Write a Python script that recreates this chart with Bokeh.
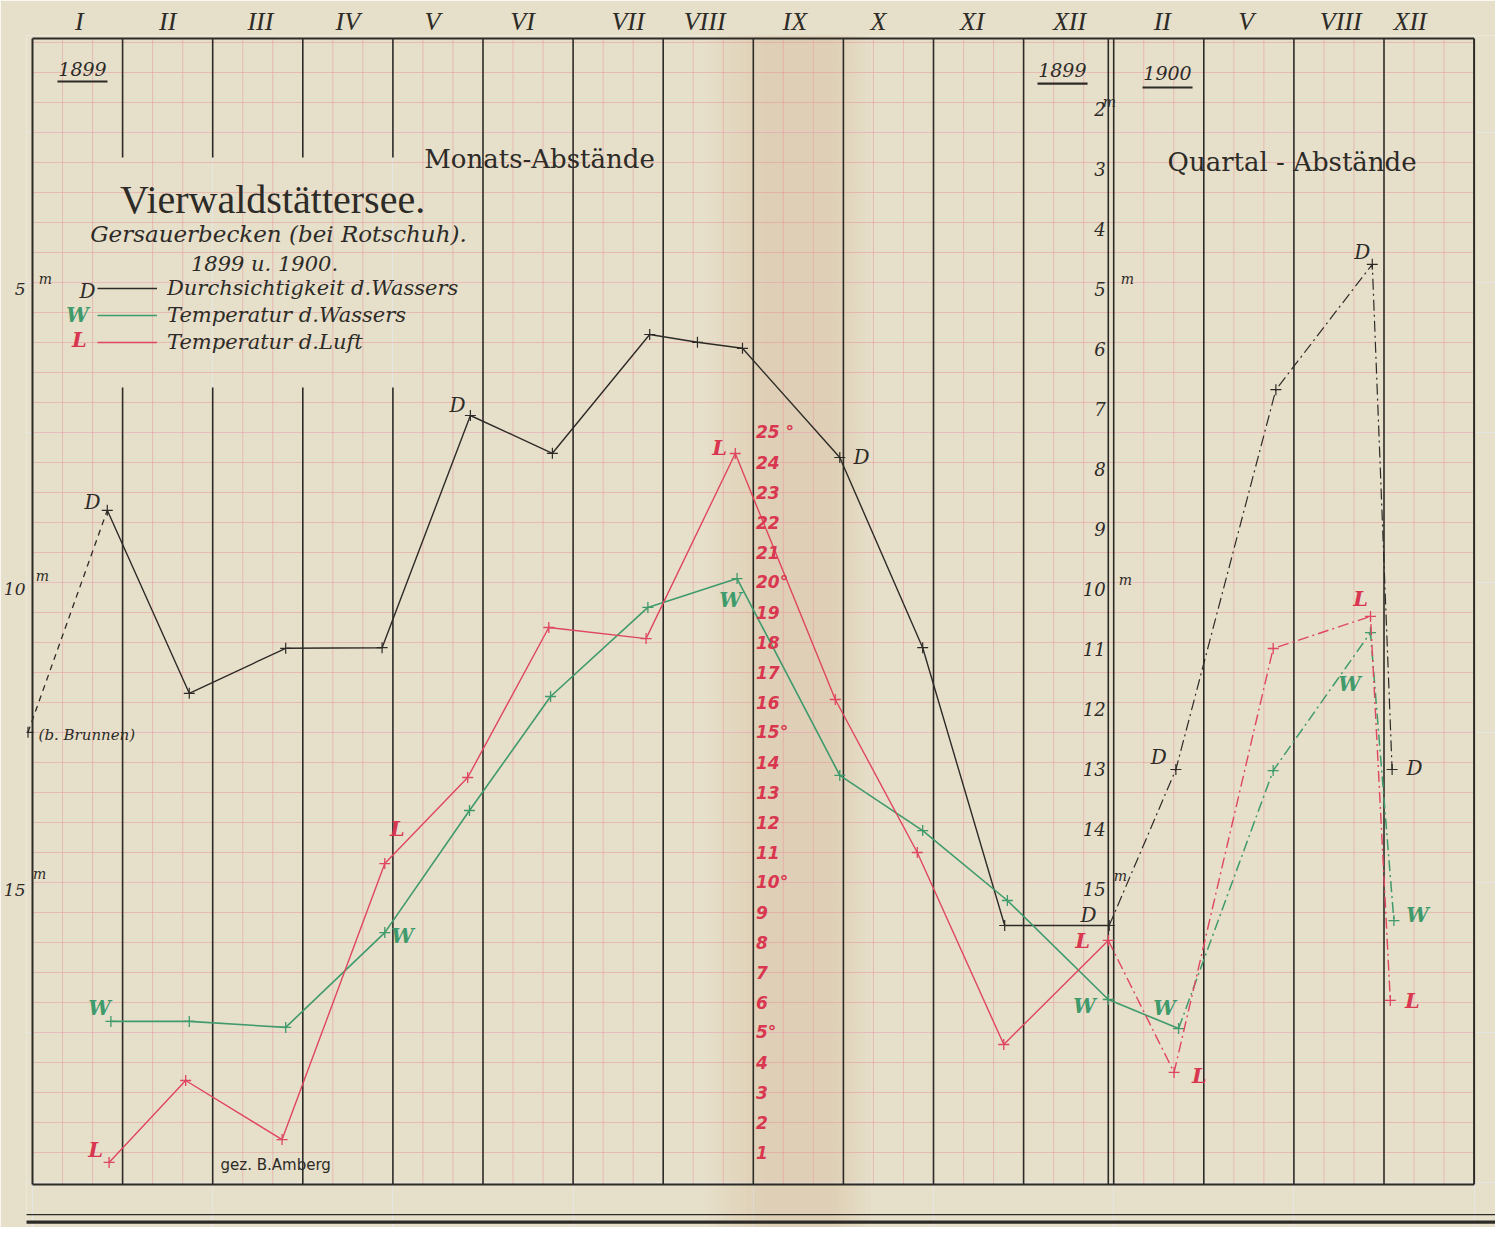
from bokeh.plotting import figure
from bokeh.models import Range1d, LinearAxis, FixedTicker, ColumnDataSource, Legend, LegendItem
from bokeh.core.properties import value
from bokeh.embed import file_html
from bokeh.resources import INLINE

# ---------------- data ----------------
# x = column position: 0..12 = months I..XII of 1899, 12..16 = the four quarters of 1900
month_labels = ["I", "II", "III", "IV", "V", "VI", "VII", "VIII", "IX", "X", "XI", "XII",
                "II", "V", "VIII", "XII"]
month_label_pos = [0.52, 1.50, 2.53, 3.50, 4.44, 5.44, 6.61, 7.46, 8.46, 9.39, 10.43, 11.51,
                   12.54, 13.47, 14.52, 15.29]

# D - Durchsichtigkeit des Wassers (m)
d1899_x = [0.83, 1.74, 2.81, 3.88, 4.86, 5.77, 6.85, 7.38, 7.88, 8.96, 9.88, 10.79, 11.95]
d1899_m = [8.68, 11.73, 10.98, 10.97, 7.10, 7.73, 5.75, 5.88, 5.98, 7.80, 10.97, 15.60, 15.60]
d_brunnen_x = [-0.05]
d_brunnen_m = [12.38]
d1900_x = [11.95, 12.69, 13.80, 14.87, 15.09]
d1900_m = [15.60, 13.00, 6.67, 4.58, 13.00]

# W - Temperatur des Wassers (deg C)
w1899_x = [0.87, 1.74, 2.81, 3.91, 4.85, 5.75, 6.83, 7.82, 8.96, 9.88, 10.82, 11.94]
w1899_t = [5.37, 5.37, 5.17, 8.33, 12.40, 16.20, 19.17, 20.13, 13.57, 11.73, 9.40, 6.10]
w1900_x = [11.94, 12.72, 13.77, 14.85, 15.11]
w1900_t = [6.10, 5.13, 13.73, 18.33, 8.73]

# L - Temperatur der Luft (deg C)
l1899_x = [0.85, 1.70, 2.77, 3.91, 4.83, 5.73, 6.81, 7.80, 8.91, 9.82, 10.78, 11.94]
l1899_t = [0.67, 3.40, 1.43, 10.63, 13.50, 18.50, 18.13, 24.30, 16.10, 11.00, 4.60, 8.07]
l1900_x = [11.94, 12.67, 13.77, 14.85, 15.07]
l1900_t = [8.07, 3.67, 17.80, 18.87, 6.07]

temp_scale = list(range(1, 26))
depth_ticks_left = [5, 10, 15]
depth_scale_right = list(range(2, 16))

# ---------------- style ----------------
PAPER = "#e6dfca"
INK = "#2d2b27"
GREEN = "#3f9a6c"
RED = "#df4660"
RED_TXT = "#d93650"
PINK = "#e79c9c"
SERIF = "DejaVu Serif"

BOX_L, BOX_R, BOX_B, BOX_T = 0.0, 16.0, -0.067, 38.13

p = figure(width=1495, height=1227, output_backend="svg", toolbar_location=None,
           x_range=Range1d(-0.0666, 16.2375), y_range=Range1d(-1.5, 38.2333),
           x_axis_location=None, y_axis_location=None,
           min_border_left=26, min_border_right=0, min_border_top=35, min_border_bottom=0,
           background_fill_color=PAPER, border_fill_color=PAPER, outline_line_color=None)
p.extra_y_ranges = {"depth": Range1d(20.6333, 0.7667)}

# fold shading of the sheet (soft vertical band)
for i in range(8):
    lo = 7.50 + 0.085 * i
    hi = 9.30 - 0.06 * i
    p.quad(left=[lo], right=[hi], bottom=[-1.5], top=[38.3], fill_color="#c08850",
           fill_alpha=0.016, line_color=None)

# pink millimetre grid
hy = [float(t) for t in range(1, 39)]
p.segment(x0=[BOX_L] * len(hy), x1=[BOX_R] * len(hy), y0=hy, y1=hy,
          line_color=PINK, line_width=0.8, line_alpha=0.7)
vx = [k + f for k in range(16) for f in (1 / 3, 2 / 3)]
p.segment(x0=vx, x1=vx, y0=[BOX_B] * len(vx), y1=[BOX_T] * len(vx),
          line_color=PINK, line_width=0.8, line_alpha=0.7)

# black column lines
full_cols = [5, 6, 7, 8, 9, 10, 11, 11.94, 12.0, 13, 14, 15]
p.segment(x0=full_cols, x1=full_cols, y0=[BOX_B] * len(full_cols), y1=[BOX_T] * len(full_cols),
          line_color=INK, line_width=1.6)
split_cols = [1, 2, 3, 4]
p.segment(x0=split_cols, x1=split_cols, y0=[34.17] * 4, y1=[BOX_T] * 4, line_color=INK, line_width=1.6)
p.segment(x0=split_cols, x1=split_cols, y0=[BOX_B] * 4, y1=[26.5] * 4, line_color=INK, line_width=1.6)
# box
p.segment(x0=[BOX_L, BOX_R, BOX_L, BOX_L], x1=[BOX_L, BOX_R, BOX_R, BOX_R],
          y0=[BOX_B, BOX_B, BOX_B, BOX_T], y1=[BOX_T, BOX_T, BOX_B, BOX_T],
          line_color=INK, line_width=2.0)
# outer frame at the bottom of the sheet
p.segment(x0=[-1, -1], x1=[17, 17], y0=[-1.07, -1.32], y1=[-1.07, -1.32],
          line_color=INK, line_width=[1.4, 3.2])

# ---------------- series ----------------
DASHDOT = "11 4 2 4"
# D
rD = p.line(d1899_x, d1899_m, y_range_name="depth", line_color=INK, line_width=1.4)
p.line(d_brunnen_x + d1899_x[:1], d_brunnen_m + d1899_m[:1], y_range_name="depth",
       line_color=INK, line_width=1.3, line_dash="6 5")
p.line(d1900_x, d1900_m, y_range_name="depth", line_color=INK, line_width=1.2, line_dash=DASHDOT)
p.scatter(d_brunnen_x + d1899_x + d1900_x[1:], d_brunnen_m + d1899_m + d1900_m[1:],
          y_range_name="depth", marker="cross", size=11, line_color=INK, line_width=1.2)
# W
rW = p.line(w1899_x + w1900_x[1:2], w1899_t + w1900_t[1:2], line_color=GREEN, line_width=1.6)
p.line(w1900_x[1:], w1900_t[1:], line_color=GREEN, line_width=1.5, line_dash=DASHDOT)
p.scatter(w1899_x + w1900_x[1:], w1899_t + w1900_t[1:], marker="cross", size=11,
          line_color=GREEN, line_width=1.3)
# L
rL = p.line(l1899_x, l1899_t, line_color=RED, line_width=1.4)
p.line(l1900_x, l1900_t, line_color=RED, line_width=1.4, line_dash=DASHDOT)
p.scatter(l1899_x + l1900_x[1:], l1899_t + l1900_t[1:], marker="cross", size=11,
          line_color=RED, line_width=1.3)


def txt(xs, ys, texts, size, color=INK, font=SERIF, style="italic", align="center",
        baseline="middle"):
    src = ColumnDataSource(dict(x=xs, y=ys, t=texts))
    p.text(x="x", y="y", text="t", source=src, text_font=value(font), text_font_style=style,
           text_font_size=size, text_color=color, text_align=align, text_baseline=baseline)


# series letters next to the points
txt([0.666, 4.717, 9.20, 11.72, 12.50, 14.76, 15.34],
    [22.67, 25.90, 24.17, 8.93, 14.17, 31.03, 13.80], ["D"] * 7, "20px", INK)
txt([0.744, 4.107, 7.747, 11.676, 12.564, 14.617, 15.372],
    [5.83, 8.20, 19.40, 5.87, 5.83, 16.60, 8.93], ["W"] * 7, "20px", GREEN, style="bold italic")
txt([0.70, 4.05, 7.625, 11.654, 12.95, 14.74, 15.316],
    [1.10, 11.80, 24.50, 8.07, 3.57, 19.47, 6.07], ["L"] * 7, "21px", RED_TXT, style="bold italic")

# temperature scale (red) along column VIII/IX
txt([8.03] * len(temp_scale), [float(t) for t in temp_scale],
    [("%d °" % t) if t == 25 else ("%d°" % t if t % 5 == 0 else "%d" % t) for t in temp_scale],
    "17px", RED_TXT, font="DejaVu Sans", style="bold italic", align="left")

# depth scale of the quarter section
txt([11.91] * len(depth_scale_right), [(1193 - 60 * d) / 30 for d in depth_scale_right],
    [str(d) for d in depth_scale_right], "18px", INK, align="right")
txt([11.953, 12.153, 12.13, 12.075, 0.144, 0.111, 0.078],
    [36.0, 30.1, 20.07, 10.2, 30.1, 20.2, 10.27], ["m"] * 7, "14px", INK)

# titles and notes
txt([2.664], [32.77], ["Vierwaldstättersee."], "40px", INK, font="Liberation Serif", style="normal")
txt([2.73], [31.63], ["Gersauerbecken (bei Rotschuh)."], "23px", INK)
txt([2.575], [30.60], ["1899 u. 1900."], "21px", INK)
txt([5.627], [34.13], ["Monats-Abstände"], "26px", INK, style="normal")
txt([13.98], [34.03], ["Quartal - Abstände"], "26px", INK, style="normal")
txt([0.555, 11.43, 12.597], [37.10, 37.07, 36.97], ["1899", "1899", "1900"], "19px", INK)
p.segment(x0=[0.277, 11.154, 12.32], x1=[0.832, 11.71, 12.875], y0=[36.70, 36.63, 36.50],
          y1=[36.70, 36.63, 36.50], line_color=INK, line_width=2.2)
txt([0.067], [14.90], ["(b. Brunnen)"], "15px", INK, align="left")
txt([2.087], [0.60], ["gez. B.Amberg"], "15px", INK, font="DejaVu Sans", style="normal", align="left")

# legend letters
txt([0.61], [29.73], ["D"], "20px", INK)
txt([0.50], [28.90], ["W"], "20px", GREEN, style="bold italic")
txt([0.52], [28.10], ["L"], "21px", RED_TXT, style="bold italic")

legend = Legend(items=[LegendItem(label="Durchsichtigkeit d.Wassers", renderers=[rD]),
                       LegendItem(label="Temperatur d.Wassers", renderers=[rW]),
                       LegendItem(label="Temperatur d.Luft", renderers=[rL])],
                location=(71, 873), orientation="vertical", border_line_color=None,
                background_fill_alpha=0, padding=0, margin=0, spacing=3,
                glyph_width=60, glyph_height=20, label_standoff=10,
                label_text_font=SERIF, label_text_font_style="italic",
                label_text_font_size="21px", label_text_color=INK)
p.add_layout(legend)

# axes: month numerals above, depth scale at the left
ax_top = LinearAxis(ticker=FixedTicker(ticks=month_label_pos),
                    major_label_overrides={pos: lab for pos, lab in zip(month_label_pos, month_labels)})
ax_top.axis_line_color = None
ax_top.major_tick_line_color = None
ax_top.minor_tick_line_color = None
ax_top.major_tick_out = 0
ax_top.major_tick_in = 0
ax_top.major_label_standoff = 0
ax_top.major_label_text_font = "Liberation Serif"
ax_top.major_label_text_font_style = "italic"
ax_top.major_label_text_font_size = "26px"
ax_top.major_label_text_color = INK
p.add_layout(ax_top, "above")

ax_left = LinearAxis(y_range_name="depth", ticker=FixedTicker(ticks=depth_ticks_left))
ax_left.axis_line_color = None
ax_left.major_tick_line_color = None
ax_left.minor_tick_line_color = None
ax_left.major_tick_out = 0
ax_left.major_tick_in = 0
ax_left.major_label_standoff = 1
ax_left.major_label_text_font = SERIF
ax_left.major_label_text_font_style = "italic"
ax_left.major_label_text_font_size = "17px"
ax_left.major_label_text_color = INK
p.add_layout(ax_left, "left")

open("out.html", "w").write(file_html(p, INLINE))
